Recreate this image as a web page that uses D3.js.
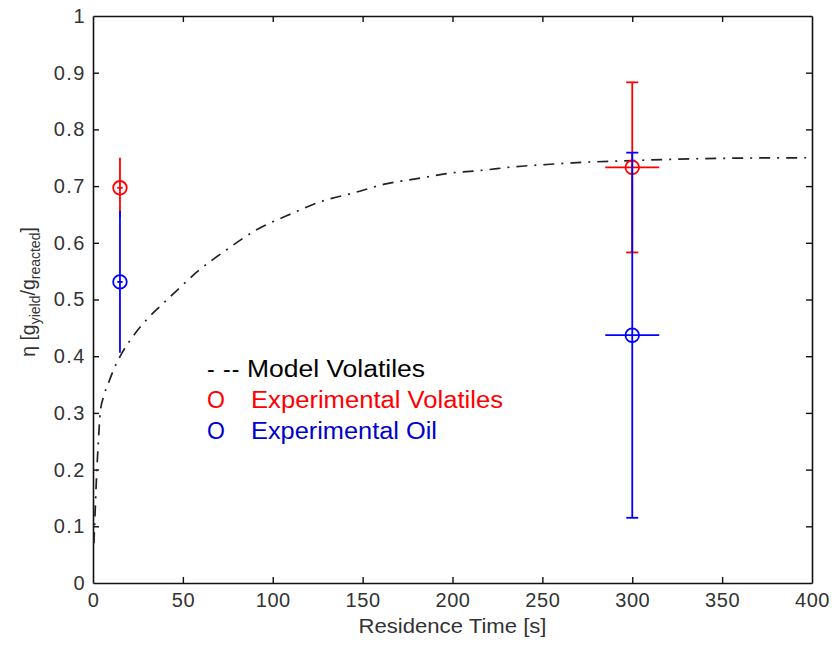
<!DOCTYPE html>
<html>
<head>
<meta charset="utf-8">
<script src="https://cdn.jsdelivr.net/npm/d3@7/dist/d3.min.js"></script>
<style>
  html, body { margin: 0; padding: 0; background: #fff; }
  svg { display: block; font-family: "Liberation Sans", Arial, sans-serif; }
</style>
</head>
<body>
<svg id="chart" width="834" height="646"></svg>
<script>
// Model curve: yield of volatiles vs residence time
const modelTime = [0.5, 1, 2, 3, 4, 6, 8.5, 12, 16, 22, 30, 38, 48, 58, 74, 91, 108, 128, 145, 163, 182, 199, 217, 234, 252, 267, 300, 350, 400];
const modelEta  = [0.07, 0.11, 0.19, 0.25, 0.30, 0.33, 0.352, 0.38, 0.405, 0.434, 0.465, 0.49, 0.52, 0.549, 0.587, 0.623, 0.648, 0.674, 0.688, 0.704, 0.714, 0.723, 0.728, 0.734, 0.738, 0.741, 0.745, 0.749, 0.75];

// Experimental points
const expTime = [15, 300];
const expTimeErr = [1.5, 15];
const volatilesEta = [0.697, 0.733];
const volatilesErr = [0.053, 0.15];
const oilEta = [0.531, 0.437];
const oilErr = [0.125, 0.322];

const xTicks = [0, 50, 100, 150, 200, 250, 300, 350, 400];
const yTicks = [0, 0.1, 0.2, 0.3, 0.4, 0.5, 0.6, 0.7, 0.8, 0.9, 1];

const legendLabels = ["Model Volatiles", "Experimental Volatiles", "Experimental Oil"];

const svg = d3.select("#chart");
const plotLeft = 93, plotRight = 812, plotTop = 16, plotBottom = 583;

const x = d3.scaleLinear().domain([0, 400]).range([plotLeft, plotRight]);
const y = d3.scaleLinear().domain([0, 1]).range([plotBottom, plotTop]);

const tickColor = "#333";
const fmt = d => (d === 0 || d === 1) ? String(d) : d3.format(".1f")(d);

// Axes (ticks pointing inward on all four sides)
const axB = svg.append("g").attr("transform", `translate(0,${plotBottom})`)
  .call(d3.axisBottom(x).tickValues(xTicks).tickSizeInner(-6).tickSizeOuter(0).tickPadding(10));
const axL = svg.append("g").attr("transform", `translate(${plotLeft},0)`)
  .call(d3.axisLeft(y).tickValues(yTicks).tickFormat(fmt).tickSizeInner(-6).tickSizeOuter(0).tickPadding(7));
const axT = svg.append("g").attr("transform", `translate(0,${plotTop})`)
  .call(d3.axisTop(x).tickValues(xTicks).tickSizeInner(-6).tickSizeOuter(0).tickFormat(""));
const axR = svg.append("g").attr("transform", `translate(${plotRight},0)`)
  .call(d3.axisRight(y).tickValues(yTicks).tickSizeInner(-6).tickSizeOuter(0).tickFormat(""));

[axB, axL, axT, axR].forEach(g => {
  g.select(".domain").attr("stroke", "#111").attr("stroke-width", 1.6);
  g.selectAll(".tick line").attr("stroke", "#111").attr("stroke-width", 1.4);
  g.selectAll(".tick text").attr("fill", tickColor).style("font-size", "20px")
    .style("font-family", "'Liberation Sans', Arial, sans-serif");
});
axB.selectAll(".tick text").style("letter-spacing", "0.6px");
axL.selectAll(".tick text").style("letter-spacing", "1.5px");
// hide the end ticks that would overlap the frame
axB.selectAll(".tick").filter(d => d === 0 || d === 400).select("line").remove();
axT.selectAll(".tick").filter(d => d === 0 || d === 400).select("line").remove();
axL.selectAll(".tick").filter(d => d === 0 || d === 1).select("line").remove();
axR.selectAll(".tick").filter(d => d === 0 || d === 1).select("line").remove();

// Axis titles
svg.append("text").attr("x", (plotLeft + plotRight) / 2).attr("y", 633)
  .attr("text-anchor", "middle").attr("fill", tickColor).style("font-size", "20px")
  .attr("textLength", 188).attr("lengthAdjust", "spacingAndGlyphs")
  .text("Residence Time [s]");

const yl = svg.append("text").attr("transform", "translate(35,292) rotate(-90)")
  .attr("text-anchor", "middle").attr("fill", tickColor).style("font-size", "19.5px");
yl.append("tspan").text("η [g");
yl.append("tspan").attr("dy", 5).style("font-size", "14px").text("yield");
yl.append("tspan").attr("dy", -5).text("/g");
yl.append("tspan").attr("dy", 5).style("font-size", "14px").text("reacted");
yl.append("tspan").attr("dy", -5).text("]");

// Model curve
const modelData = modelTime.map((t, i) => [t, modelEta[i]]);
svg.append("path").datum(modelData)
  .attr("fill", "none").attr("stroke", "#222").attr("stroke-width", 1.7)
  .attr("stroke-dasharray", "11,7,2,7")
  .attr("d", d3.line().x(d => x(d[0])).y(d => y(d[1])).curve(d3.curveMonotoneX));

// Error bars + markers
function series(eta, err, color) {
  const g = svg.append("g").attr("stroke", color).attr("stroke-width", 1.8).attr("fill", "none");
  expTime.forEach((t, i) => {
    const cx = x(t), cy = y(eta[i]);
    g.append("line").attr("x1", cx).attr("x2", cx).attr("y1", y(eta[i] + err[i])).attr("y2", y(eta[i] - err[i]));
    g.append("line").attr("x1", x(t - expTimeErr[i])).attr("x2", x(t + expTimeErr[i])).attr("y1", cy).attr("y2", cy);
    if (expTimeErr[i] > 5) {
      [eta[i] + err[i], eta[i] - err[i]].forEach(v => {
        g.append("line").attr("x1", cx - 6).attr("x2", cx + 6).attr("y1", y(v)).attr("y2", y(v));
      });
    }
    g.append("circle").attr("cx", cx).attr("cy", cy).attr("r", 6.8);
  });
}
series(volatilesEta, volatilesErr, "#ff0000");
series(oilEta, oilErr, "#0000ff");

// Legend
const lg = svg.append("g").style("font-size", "23px");
const legendRows = [
  { y: 377, color: "#000",    sym: "- --", label: legendLabels[0], lx: 247, w: 178 },
  { y: 408, color: "#ff0000", sym: "O",    label: legendLabels[1], lx: 251, w: 252 },
  { y: 439, color: "#0000cc", sym: "O",    label: legendLabels[2], lx: 251, w: 186 }
];
legendRows.forEach(r => {
  lg.append("text").attr("x", 207).attr("y", r.y).attr("fill", r.color)
    .style("letter-spacing", r.sym.length > 1 ? "1px" : "0px").text(r.sym);
  lg.append("text").attr("x", r.lx).attr("y", r.y).attr("fill", r.color)
    .attr("textLength", r.w).attr("lengthAdjust", "spacingAndGlyphs").text(r.label);
});
</script>
</body>
</html>
